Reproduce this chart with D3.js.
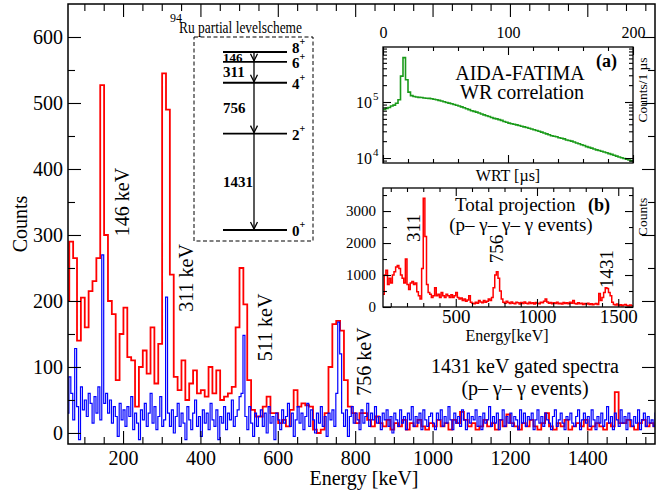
<!DOCTYPE html>
<html lang="en">
<head>
<meta charset="UTF-8">
<title>94Ru 1431 keV gated spectra</title>
<script src="https://cdn.jsdelivr.net/npm/d3@7"></script>
<style>
  body { margin: 0; background: #fff; }
  svg { font-family: "Liberation Serif", "Times New Roman", serif; }
  .axis line { stroke: #000; stroke-width: 1.1; }
  .axis text { fill: #000; }
</style>
</head>
<body>
<script>
// main spectrum, red: p-gamma-gamma gated on 1431 keV, 10 keV bins from 51 keV
const redStart = 51, redWidth = 10;
const redCounts = [
  200, 290, 265, 140, 205, 160, 215, 230, 265, 527,
  300, 200, 180, 80, 150, 190, 115, 110, 40, 100,
  125, 90, 160, 75, 135, 545, 490, 240, 85, 65,
  110, 50, 75, 95, 60, 65, 55, 100, 60, 95,
  50, 55, 60, 70, 160, 250, 195, 80, 35, 25,
  25, 40, 55, 30, 30, 15, 20, 10, 35, 65,
  40, 45, 42, 40, 5, 0, 5, 30, 100, 165,
  170, 155, 80, 40, 30, 15, 30, 30, 20, 10,
  25, 15, 10, 20, 5, 15, 10, 20, 5, 15,
  10, 20, 10, 5, 15, 10, 20, 10, 15, 5,
  20, 15, 32, 20, 10, 15, 5, 10, 20, 10,
  15, 5, 20, 10, 28, 15, 10, 5, 15, 10,
  20, 10, 5, 15, 30, 10, 5, 15, 10, 20,
  5, 10, 15, 10, 20, 5, 10, 15, 10, 5,
  15, 10, 62, 15, 15, 20, 10, 5, 15, 20,
  10, 15, 10
];

// main spectrum, blue: 5 keV bins from 55 keV
const blueStart = 55, blueWidth = 5;
const blueCounts = [
  30, 85, 60, 20, 128, 40, -10, 70, 35, 50,
  25, 60, 45, 15, 55, 30, 70, 20, 270, 45,
  60, 30, 50, 15, 40, 25, -5, 45, 20, 35,
  10, 40, 25, 55, 5, 30, 15, -10, 35, 20,
  45, 10, 30, 60, 15, 40, 5, 25, 55, 10,
  20, 206, 30, 10, 35, 0, 25, 45, 10, 30,
  15, -10, 40, 20, 5, 30, 50, 10, 25, -5,
  35, 15, 30, 5, 45, 20, 10, 35, -10, 25,
  15, 40, 5, 30, 20, 50, 10, 25, 35, 55,
  60, 148, 25, 5, 40, 15, -5, 30, 10, 25,
  35, 10, 30, 0, 40, 15, 25, -10, 30, 20,
  5, 35, 15, 25, 45, 10, 30, -5, 20, 40,
  15, 30, 5, 25, 45, 10, 35, 20, 0, 30,
  15, 40, 10, 25, -5, 30, 20, 35, 10, 60,
  168, 120, 30, 10, 35, -5, 25, 40, 15, 30,
  20, 5, 35, 15, 25, 45, 10, 30, 20, 40,
  15, 25, 5, 30, 20, 35, 10, 25, 0, 30,
  20, 10, 35, 15, 25, 5, 30, 20, 40, 10,
  25, 15, 30, 5, 35, 20, 10, 25, 30, 15,
  5, 30, 20, 35, 10, 25, 15, 40, 20, 5,
  30, 15, 25, 10, 35, 20, 5, 30, 15, 25,
  20, 35, 10, 25, 5, 30, 15, 20, 40, 10,
  25, 15, 30, 5, 20, 35, 10, 25, 15, 30,
  10, 25, 20, 5, 35, 15, 30, 10, 25, 20,
  30, 5, 20, 35, 15, 25, 10, 30, 20, 15,
  5, 25, 35, 10, 20, 30, 15, 5, 25, 20,
  30, 15, 10, 25, 35, 5, 20, 30, 15, 25,
  10, 35, 20, 5, 25, 15, 30, 10, 20, 40,
  15, 25, 5, 30, 20, 10, 35, 15, 25, 5,
  30, 20, 10, 25, 15, 35, 5, 20, 30, 10,
  25, 15, 20, 10, 30
];

// inset (b): total projection, 10 keV bins from 50 keV
const projStart = 50, projWidth = 10;
const projCounts = [
  400, 1000, 1150, 700, 900, 750, 1000, 1100, 1250, 1300,
  1200, 1000, 900, 750, 1500, 700, 550, 750, 800, 700,
  750, 480, 350, 250, 1200, 3400, 2200, 700, 450, 400,
  300, 350, 600, 350, 400, 300, 450, 350, 300, 400,
  350, 300, 380, 300, 350, 450, 300, 250, 280, 200,
  250, 180, 220, 350, 150, 120, 100, 150, 120, 200,
  160, 130, 200, 150, 180, 250, 200, 300, 600, 1000,
  1100, 900, 500, 250, 150, 120, 180, 140, 110, 160,
  120, 100, 150, 130, 90, 140, 110, 160, 120, 100,
  150, 110, 130, 90, 140, 120, 100, 150, 130, 180,
  250, 160, 120, 140, 100, 130, 110, 150, 100, 120,
  90, 140, 110, 130, 100, 150, 120, 200, 110, 90,
  130, 100, 120, 80, 110, 90, 120, 80, 100, 70,
  90, 110, 80, 420, 200, 300, 450, 600, 580, 450,
  350, 150, 80, 60, 90, 50, 70, 40, 60, 80,
  50, 30, 60, 40
];

// inset (a): AIDA-FATIMA white rabbit time difference, 2 us bins
const wrtStart = 0, wrtWidth = 2;
const wrtCounts = [
  74000, 77000, 80000, 85000, 88000, 95000, 110000, 290000, 620000, 250000,
  150000, 130000, 125000, 123000, 121000, 120000, 118000, 117000, 116000, 114000,
  112000, 110000, 107000, 104000, 101000, 98000, 95500, 93000, 90000, 87500,
  85000, 82000, 79000, 76000, 73000, 70000, 68000, 66000, 63500, 61000,
  59000, 57000, 55000, 53000, 51000, 50000, 48500, 47000, 45000, 43500,
  42000, 41000, 40000, 39000, 38000, 37000, 36000, 35000, 34000, 33000,
  32000, 31000, 30000, 29000, 28000, 27000, 26000, 25000, 24500, 24000,
  23000, 22500, 22000, 21000, 20500, 20000, 19300, 18600, 18000, 17300,
  16700, 16000, 15500, 15000, 14500, 14000, 13600, 13200, 12800, 12400,
  12000, 11600, 11200, 10800, 10400, 10100, 9800, 9500, 9200, 8900
];

// level scheme of 94Ru
const levelEnergies = [0, 1431, 2187, 2498, 2644];
const levelSpins = ["0", "2", "4", "6", "8"];
const gammaLabels = ["1431", "756", "311", "146"];

// tick labels
const energyTicks = [200, 400, 600, 800, 1000, 1200, 1400];
const countTicks = [0, 100, 200, 300, 400, 500, 600];
const wrtTicks = [0, 100, 200];
const wrtDecades = [1e4, 1e5];
const projEnergyTicks = [500, 1000, 1500];
const projCountTicks = [0, 1000, 2000, 3000];

const width = 656, height = 494;
const FONT = '"Liberation Serif", "Times New Roman", serif';
const fmt = d3.format("d");

const svg = d3.select("body").append("svg")
    .attr("width", width)
    .attr("height", height);

function stepPoints(start, w, counts) {
    const pts = counts.map((c, i) => [start + i * w, c]);
    pts.push([start + counts.length * w, counts[counts.length - 1]]);
    return pts;
}

function drawAxis(g, axis, fontSize) {
    g.attr("class", "axis").call(axis);
    g.select(".domain").remove();
    g.attr("font-family", FONT).attr("font-size", fontSize);
}

function range(a, b, step, skip) {
    const out = [];
    for (let v = a; v <= b + 1e-9; v += step) if (!skip || v % skip !== 0) out.push(v);
    return out;
}

// ---------- main panel ----------
const M = { left: 68, right: 655, top: 4, bottom: 444 };
const x = d3.scaleLinear().domain([57.7, 1575]).range([M.left, M.right]);
const y = d3.scaleLinear().domain([-16.7, 650]).range([M.bottom, M.top]);

svg.append("clipPath").attr("id", "clipMain").append("rect")
    .attr("x", M.left).attr("y", M.top)
    .attr("width", M.right - M.left).attr("height", M.bottom - M.top);

const line = d3.line().x(d => x(d[0])).y(d => y(d[1])).curve(d3.curveStepAfter);

const spectra = svg.append("g").attr("clip-path", "url(#clipMain)");
spectra.append("path")
    .attr("d", line(stepPoints(redStart, redWidth, redCounts)))
    .attr("fill", "none").attr("stroke", "#ff0000").attr("stroke-width", 1.8);
spectra.append("path")
    .attr("d", line(stepPoints(blueStart, blueWidth, blueCounts)))
    .attr("fill", "none").attr("stroke", "#0000ff").attr("stroke-width", 1.2);

const minorE = range(100, 1550, 50, 200);
const minorC = [50, 150, 250, 350, 450, 550];

drawAxis(svg.append("g").attr("transform", `translate(0,${M.bottom})`),
    d3.axisBottom(x).tickValues(energyTicks).tickSize(-13).tickPadding(7).tickFormat(fmt), 20);
drawAxis(svg.append("g").attr("transform", `translate(0,${M.bottom})`),
    d3.axisBottom(x).tickValues(minorE).tickSize(-7).tickFormat(""), 20);
drawAxis(svg.append("g").attr("transform", `translate(0,${M.top})`),
    d3.axisTop(x).tickValues(energyTicks).tickSize(-13).tickFormat(""), 20);
drawAxis(svg.append("g").attr("transform", `translate(0,${M.top})`),
    d3.axisTop(x).tickValues(minorE).tickSize(-7).tickFormat(""), 20);
drawAxis(svg.append("g").attr("transform", `translate(${M.left},0)`),
    d3.axisLeft(y).tickValues(countTicks).tickSize(-13).tickPadding(5).tickFormat(fmt), 20);
drawAxis(svg.append("g").attr("transform", `translate(${M.left},0)`),
    d3.axisLeft(y).tickValues(minorC).tickSize(-7).tickFormat(""), 20);
drawAxis(svg.append("g").attr("transform", `translate(${M.right},0)`),
    d3.axisRight(y).tickValues(countTicks).tickSize(-13).tickFormat(""), 20);
drawAxis(svg.append("g").attr("transform", `translate(${M.right},0)`),
    d3.axisRight(y).tickValues(minorC).tickSize(-7).tickFormat(""), 20);

svg.append("rect")
    .attr("x", M.left).attr("y", M.top)
    .attr("width", M.right - M.left).attr("height", M.bottom - M.top)
    .attr("fill", "none").attr("stroke", "#000").attr("stroke-width", 1.5);

svg.append("text")
    .attr("x", 364).attr("y", 485)
    .attr("text-anchor", "middle").attr("font-size", 20)
    .text("Energy [keV]");
svg.append("text")
    .attr("transform", "translate(27,224) rotate(-90)")
    .attr("text-anchor", "middle").attr("font-size", 20)
    .text("Counts");

// peak labels
[["146 keV", 215, 350], ["311 keV", 380, 235], ["511 keV", 585, 160], ["756 keV", 840, 108]]
    .forEach(([t, e, c]) => {
        svg.append("text")
            .attr("transform", `translate(${x(e)},${y(c)}) rotate(-90)`)
            .attr("text-anchor", "middle").attr("font-size", 20)
            .text(t);
    });

svg.append("text").attr("x", 525).attr("y", 373)
    .attr("text-anchor", "middle").attr("font-size", 20)
    .text("1431 keV gated spectra");
svg.append("text").attr("x", 525).attr("y", 395)
    .attr("text-anchor", "middle").attr("font-size", 20)
    .text("(p\u2013 \u03b3\u2013 \u03b3 events)");

// ---------- level scheme ----------
const ls = svg.append("g");
ls.append("rect")
    .attr("x", 194).attr("y", 37).attr("width", 119).attr("height", 204)
    .attr("fill", "#fff").attr("stroke", "#000").attr("stroke-width", 1)
    .attr("stroke-dasharray", "4,2.5");
ls.append("text").attr("x", 170).attr("y", 22).attr("font-size", 12).text("94");
ls.append("text").attr("x", 179).attr("y", 33).attr("font-size", 16)
    .attr("textLength", 123).attr("lengthAdjust", "spacingAndGlyphs")
    .text("Ru partial levelscheme");

const levelY = d3.scaleLinear().domain([0, 2644]).range([230, 52]);
const arrowX = 254;

levelEnergies.forEach((e, i) => {
    const ly = levelY(e);
    const top = i === levelEnergies.length - 1;
    ls.append("line")
        .attr("x1", 223).attr("x2", 287).attr("y1", ly).attr("y2", ly)
        .attr("stroke", "#000").attr("stroke-width", 1.8);
    // the top two levels are close, so the 8+ label sits just above its line
    const t = ls.append("text").attr("x", 292).attr("y", top ? ly + 1 : ly + 6)
        .attr("font-size", 15).attr("font-weight", "bold");
    t.append("tspan").text(levelSpins[i]);
    t.append("tspan").attr("dy", -8).attr("font-size", 10).text("+");
});

gammaLabels.forEach((g, i) => {
    const yLow = levelY(levelEnergies[i]);
    const yHigh = levelY(levelEnergies[i + 1]);
    ls.append("line")
        .attr("x1", arrowX).attr("x2", arrowX).attr("y1", yHigh).attr("y2", yLow)
        .attr("stroke", "#000").attr("stroke-width", 1.3);
    ls.append("path")
        .attr("d", `M${arrowX - 3.5},${yLow - 8} L${arrowX},${yLow - 1} L${arrowX + 3.5},${yLow - 8}`)
        .attr("fill", "none").attr("stroke", "#000").attr("stroke-width", 1.3);
    ls.append("text")
        .attr("x", 223).attr("y", (yLow + yHigh) / 2 + 5)
        .attr("font-size", g === "146" ? 13 : 15).attr("font-weight", "bold")
        .text(g);
});

// ---------- inset (a) ----------
const A = { left: 383, right: 633, top: 47, bottom: 163 };
const xa = d3.scaleLinear().domain([0, 200]).range([A.left, A.right]);
const ya = d3.scaleLog().domain([8150, 959000]).range([A.bottom, A.top]);

svg.append("rect")
    .attr("x", A.left).attr("y", A.top)
    .attr("width", A.right - A.left).attr("height", A.bottom - A.top)
    .attr("fill", "#fff");
svg.append("clipPath").attr("id", "clipA").append("rect")
    .attr("x", A.left).attr("y", A.top)
    .attr("width", A.right - A.left).attr("height", A.bottom - A.top);

const lineA = d3.line().x(d => xa(d[0])).y(d => ya(d[1])).curve(d3.curveStepAfter);
svg.append("path")
    .attr("clip-path", "url(#clipA)")
    .attr("d", lineA(stepPoints(wrtStart, wrtWidth, wrtCounts)))
    .attr("fill", "none").attr("stroke", "#1a9a1a").attr("stroke-width", 1.6);

const minorT = range(20, 180, 20, 100);
const minorLog = [9000].concat(range(2e4, 9e4, 1e4), range(2e5, 9e5, 1e5));

drawAxis(svg.append("g").attr("transform", `translate(0,${A.top})`),
    d3.axisTop(xa).tickValues(wrtTicks).tickSize(-8).tickPadding(9).tickFormat(fmt), 16);
drawAxis(svg.append("g").attr("transform", `translate(0,${A.top})`),
    d3.axisTop(xa).tickValues(minorT).tickSize(-4).tickFormat(""), 16);
drawAxis(svg.append("g").attr("transform", `translate(0,${A.bottom})`),
    d3.axisBottom(xa).tickValues(wrtTicks).tickSize(-8).tickFormat(""), 16);
drawAxis(svg.append("g").attr("transform", `translate(0,${A.bottom})`),
    d3.axisBottom(xa).tickValues(minorT).tickSize(-4).tickFormat(""), 16);
drawAxis(svg.append("g").attr("transform", `translate(${A.left},0)`),
    d3.axisLeft(ya).tickValues(wrtDecades).tickSize(-8).tickFormat(""), 16);
drawAxis(svg.append("g").attr("transform", `translate(${A.left},0)`),
    d3.axisLeft(ya).tickValues(minorLog).tickSize(-4).tickFormat(""), 16);
drawAxis(svg.append("g").attr("transform", `translate(${A.right},0)`),
    d3.axisRight(ya).tickValues(wrtDecades).tickSize(-8).tickFormat(""), 16);
drawAxis(svg.append("g").attr("transform", `translate(${A.right},0)`),
    d3.axisRight(ya).tickValues(minorLog).tickSize(-4).tickFormat(""), 16);

wrtDecades.forEach(v => {
    svg.append("text")
        .attr("x", A.left - 11).attr("y", ya(v) + 6)
        .attr("text-anchor", "end").attr("font-size", 16)
        .text("10");
    svg.append("text")
        .attr("x", A.left - 10).attr("y", ya(v) - 2)
        .attr("font-size", 11)
        .text(Math.round(Math.log10(v)));
});

svg.append("rect")
    .attr("x", A.left).attr("y", A.top)
    .attr("width", A.right - A.left).attr("height", A.bottom - A.top)
    .attr("fill", "none").attr("stroke", "#000").attr("stroke-width", 1.3);

svg.append("text").attr("x", 520).attr("y", 80)
    .attr("text-anchor", "middle").attr("font-size", 20).text("AIDA-FATIMA");
svg.append("text").attr("x", 522).attr("y", 99)
    .attr("text-anchor", "middle").attr("font-size", 20).text("WR correlation");
svg.append("text").attr("x", 617).attr("y", 67)
    .attr("text-anchor", "end").attr("font-size", 18).attr("font-weight", "bold").text("(a)");
svg.append("text").attr("x", 508).attr("y", 181)
    .attr("text-anchor", "middle").attr("font-size", 16).text("WRT [\u00b5s]");
svg.append("text")
    .attr("transform", "translate(647,90) rotate(-90)")
    .attr("text-anchor", "middle").attr("font-size", 13.5).text("Counts/1 \u00b5s");

// ---------- inset (b) ----------
const B = { left: 383, right: 633, top: 188, bottom: 307 };
const xb = d3.scaleLinear().domain([52.3, 1590.8]).range([B.left, B.right]);
const yb = d3.scaleLinear().domain([0, 3720]).range([B.bottom, B.top]);

svg.append("rect")
    .attr("x", B.left).attr("y", B.top)
    .attr("width", B.right - B.left).attr("height", B.bottom - B.top)
    .attr("fill", "#fff");
svg.append("clipPath").attr("id", "clipB").append("rect")
    .attr("x", B.left).attr("y", B.top)
    .attr("width", B.right - B.left).attr("height", B.bottom - B.top);

const lineB = d3.line().x(d => xb(d[0])).y(d => yb(d[1])).curve(d3.curveStepAfter);
svg.append("path")
    .attr("clip-path", "url(#clipB)")
    .attr("d", lineB(stepPoints(projStart, projWidth, projCounts)))
    .attr("fill", "none").attr("stroke", "#ff0000").attr("stroke-width", 1.5);

const minorPE = range(100, 1500, 100, 500);
const minorPC = [500, 1500, 2500, 3500];

drawAxis(svg.append("g").attr("transform", `translate(0,${B.bottom})`),
    d3.axisBottom(xb).tickValues(projEnergyTicks).tickSize(-8).tickPadding(2.5).tickFormat(fmt), 19);
drawAxis(svg.append("g").attr("transform", `translate(0,${B.bottom})`),
    d3.axisBottom(xb).tickValues(minorPE).tickSize(-4).tickFormat(""), 19);
drawAxis(svg.append("g").attr("transform", `translate(0,${B.top})`),
    d3.axisTop(xb).tickValues(projEnergyTicks).tickSize(-8).tickFormat(""), 19);
drawAxis(svg.append("g").attr("transform", `translate(0,${B.top})`),
    d3.axisTop(xb).tickValues(minorPE).tickSize(-4).tickFormat(""), 19);
drawAxis(svg.append("g").attr("transform", `translate(${B.left},0)`),
    d3.axisLeft(yb).tickValues(projCountTicks).tickSize(-8).tickPadding(7).tickFormat(fmt), 15);
drawAxis(svg.append("g").attr("transform", `translate(${B.left},0)`),
    d3.axisLeft(yb).tickValues(minorPC).tickSize(-4).tickFormat(""), 15);
drawAxis(svg.append("g").attr("transform", `translate(${B.right},0)`),
    d3.axisRight(yb).tickValues(projCountTicks).tickSize(-8).tickFormat(""), 15);
drawAxis(svg.append("g").attr("transform", `translate(${B.right},0)`),
    d3.axisRight(yb).tickValues(minorPC).tickSize(-4).tickFormat(""), 15);

svg.append("rect")
    .attr("x", B.left).attr("y", B.top)
    .attr("width", B.right - B.left).attr("height", B.bottom - B.top)
    .attr("fill", "none").attr("stroke", "#000").attr("stroke-width", 1.3);

[["311", 280, 2470], ["756", 791, 1810], ["1431", 1468, 1190]].forEach(([t, e, c]) => {
    svg.append("text")
        .attr("transform", `translate(${xb(e)},${yb(c)}) rotate(-90)`)
        .attr("text-anchor", "middle").attr("font-size", 19)
        .text(t);
});

svg.append("text").attr("x", 455).attr("y", 211)
    .attr("font-size", 19).text("Total projection");
svg.append("text").attr("x", 610).attr("y", 211)
    .attr("text-anchor", "end").attr("font-size", 18).attr("font-weight", "bold").text("(b)");
svg.append("text").attr("x", 521).attr("y", 231)
    .attr("text-anchor", "middle").attr("font-size", 19)
    .text("(p\u2013 \u03b3\u2013 \u03b3\u2013 \u03b3 events)");
svg.append("text").attr("x", 507).attr("y", 341)
    .attr("text-anchor", "middle").attr("font-size", 16).text("Energy[keV]");
svg.append("text")
    .attr("transform", "translate(647,217) rotate(-90)")
    .attr("text-anchor", "middle").attr("font-size", 13.5).text("Counts");
</script>
</body>
</html>
